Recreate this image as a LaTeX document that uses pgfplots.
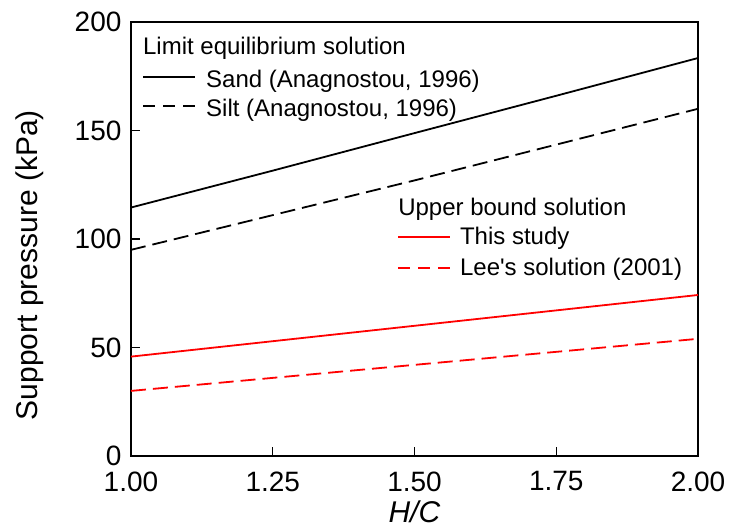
\documentclass[border=0pt]{standalone}
\usepackage{pgfplots}
\pgfplotsset{compat=1.18}
\usepackage{fontspec}
\setmainfont{Liberation Sans}[Ligatures=TeXOff]
\definecolor{lred}{RGB}{255,0,0}
\tikzset{lbl/.style={anchor=base west, inner sep=0pt, font=\fontsize{24}{28}\selectfont}}

\begin{document}
\begin{tikzpicture}
\begin{axis}[
    scale only axis,
    width=567pt, height=434pt,
    xmin=1, xmax=2, ymin=0, ymax=200,
    xtick={1,1.25,1.5,1.75,2},
    ytick={0,50,100,150,200},
    xticklabel style={yshift=-12pt, /pgf/number format/.cd,fixed,fixed zerofill,precision=2},
    /pgf/number format/assume math mode=true,
    tick align=inside,
    xtick pos=bottom, ytick pos=left,
    major tick length=9pt,
    tick style={line width=1.1pt, black},
    axis line style={line width=1.3pt},
    tick label style={font=\fontsize{28}{32}\selectfont},
    yticklabel style={xshift=-6pt},
    label style={font=\fontsize{30}{34}\selectfont},
    xlabel={\textit{H/C}},
    ylabel={Support pressure (kPa)},
    xlabel style={at={(axis description cs:0.5,-0.129)}, anchor=center},
    ylabel style={at={(axis description cs:-0.178,0.44)}, anchor=center},
]
\addplot[black, line width=1.8pt] coordinates {
    (1.00,114.5) (1.25,131.5) (1.50,148.8) (1.75,166.0) (2.00,183.4)
};
\addplot[black, line width=1.8pt, dash pattern=on 15pt off 7pt] coordinates {
    (1.00,95.0) (1.25,111.0) (1.50,127.0) (1.75,143.5) (2.00,160.0)
};
\addplot[lred, line width=1.8pt] coordinates {
    (1.00,45.8) (1.25,52.9) (1.50,60.0) (1.75,67.1) (2.00,74.2)
};
\addplot[lred, line width=1.8pt, dash pattern=on 15pt off 7pt] coordinates {
    (1.00,30.0) (1.25,36.0) (1.50,42.0) (1.75,48.0) (2.00,54.0)
};
% legend blocks
\node[lbl] at (rel axis cs:0.021,0.926) {Limit equilibrium solution};
\draw[black, line width=1.8pt] (rel axis cs:0.0212,0.8733) -- (rel axis cs:0.1129,0.8733);
\node[lbl] at (rel axis cs:0.1323,0.8502) {Sand (Anagnostou, 1996)};
\draw[black, line width=1.8pt, dash pattern=on 12pt off 8pt] (rel axis cs:0.0212,0.8065) -- (rel axis cs:0.1129,0.8065);
\node[lbl] at (rel axis cs:0.1323,0.7834) {Silt (Anagnostou, 1996)};
\node[lbl] at (rel axis cs:0.471,0.553) {Upper bound solution};
\draw[lred, line width=1.8pt] (rel axis cs:0.471,0.5046) -- (rel axis cs:0.5627,0.5046);
\node[lbl] at (rel axis cs:0.580,0.4862) {This study};
\draw[lred, line width=1.8pt, dash pattern=on 12pt off 8pt] (rel axis cs:0.471,0.4332) -- (rel axis cs:0.5627,0.4332);
\node[lbl] at (rel axis cs:0.580,0.4148) {Lee's solution (2001)};
\end{axis}
\path (current axis.south west) ++(-131pt,-74pt);
\path (current axis.north east) ++(35pt,22pt);
\end{tikzpicture}
\end{document}
